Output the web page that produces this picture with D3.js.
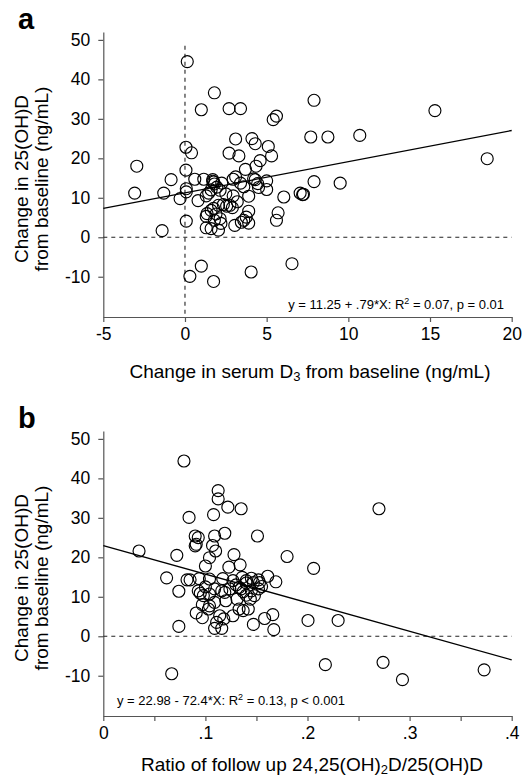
<!DOCTYPE html>
<meta charset="utf-8">
<style>
body { margin: 0; background: #fff; }
text { font-family: "Liberation Sans", Arial, sans-serif; fill: #000; }
.tick text { font-size: 17.5px; }
.axis path, .axis line { stroke: #555; stroke-width: 1.2; }
.dot { fill: none; stroke: #000; stroke-width: 1.15; }
.ref { stroke: #222; stroke-width: 1.1; stroke-dasharray: 4,4; }
.fit { stroke: #000; stroke-width: 1.3; }
.note { font-family: "Liberation Sans Narrow", "Liberation Sans", sans-serif; font-size: 13px; }
.title { font-size: 19px; }
</style>
<svg width="531" height="779"></svg>
<script src="https://d3js.org/d3.v7.min.js"></script>
<script>

// panel a: change in serum D3 vs change in 25(OH)D
var xa = [0.14, 1.8, 1.0, 2.7, 3.4, 5.4, 5.6, 7.9, 15.3, 7.7, 8.75, 10.7, 18.5,
  3.1, 4.1, 4.3, 5.1, 5.3, 0.06, 0.4, 2.7, 3.3, 4.6, 4.35, 3.7, -2.95, 0.06,
  -0.85, 0.6, 1.15, 1.7, 1.75, 2.25, 2.95, 3.1, 3.4, 4.3, 4.45, 5.0, 5.0, 4.5,
  7.9, 9.5, -3.08, -1.3, 0.08, 0.08, -0.3, 0.8, 1.3, 1.45, 1.95, 2.15, 2.95,
  3.9, 6.05, 7.05, 7.2, 7.25, 1.3, 1.35, 1.6, 1.75, 2.05, 2.35, 2.55, 2.75,
  2.15, 1.8, 1.3, 1.6, 2.05, 3.05, 3.45, 3.9, 3.9, 3.75, 3.6, 5.7, 5.6, 0.08,
  -1.4, 1.0, 0.3, 1.75, 4.05, 6.55,
  1.7, 1.8, 1.6, 2.5, 3.2, 2.9, 1.9, 2.2, 4.2, 3.6];
var ya = [44.5, 36.6, 32.3, 32.6, 32.6, 29.8, 30.7, 34.7, 32.1, 25.4, 25.4, 25.8, 19.9,
  24.9, 25.0, 23.7, 23.0, 20.6, 22.8, 21.4, 21.3, 20.6, 19.4, 18.0, 17.2, 18.0, 17.0,
  14.6, 14.7, 14.7, 14.6, 14.0, 13.7, 14.7, 15.3, 13.7, 14.6, 13.6, 14.3, 12.1, 12.6,
  14.1, 13.7, 11.2, 11.2, 12.3, 11.5, 9.8, 9.3, 10.5, 11.2, 12.7, 11.9, 10.5,
  10.4, 10.2, 11.2, 10.8, 10.9, 5.3, 6.0, 6.8, 7.3, 8.1, 8.3, 7.9, 8.1,
  4.7, 4.3, 2.4, 2.2, 1.8, 3.0, 3.8, 3.6, 6.6, 5.1, 4.3, 6.2, 4.3, 4.1,
  1.7, -7.3, -9.9, -11.2, -8.8, -6.7,
  14.2, 13.5, 12.0, 11.0, 9.0, 7.5, 5.9, 3.5, 14.8, 12.8];

// panel b: ratio 24,25(OH)2D/25(OH)D vs change in 25(OH)D
var xb = [0.079, 0.035, 0.072, 0.062, 0.074, 0.074, 0.067, 0.084, 0.082, 0.085,
  0.090, 0.093, 0.091, 0.090, 0.094, 0.093, 0.095, 0.098, 0.091, 0.097,
  0.1125, 0.1125, 0.108, 0.122, 0.135, 0.109, 0.119, 0.107, 0.110, 0.104,
  0.100, 0.128, 0.134, 0.123, 0.151, 0.18, 0.206, 0.270, 0.104, 0.117,
  0.127, 0.136, 0.140, 0.147, 0.152, 0.153, 0.161, 0.169, 0.155, 0.152,
  0.145, 0.140, 0.137, 0.133, 0.124, 0.119, 0.116, 0.109, 0.104, 0.104,
  0.109, 0.103, 0.114, 0.111, 0.109, 0.116, 0.118, 0.127, 0.133, 0.137,
  0.142, 0.144, 0.148, 0.131, 0.147, 0.158, 0.166, 0.167, 0.2005, 0.230,
  0.2175, 0.274, 0.293, 0.373,
  0.130, 0.135, 0.140, 0.120, 0.100, 0.097, 0.145];
var yb = [44.4, 21.6, 20.5, 14.8, 11.4, 2.5, -9.5, 30.1, 14.3, 14.3,
  25.4, 25.0, 23.3, 22.9, 14.6, 11.5, 10.9, 10.3, 5.9, 4.7,
  36.9, 34.8, 30.8, 32.7, 32.3, 25.4, 26.1, 23.0, 21.6, 19.9,
  17.8, 20.7, 18.1, 17.5, 25.4, 20.2, 17.2, 32.3, 14.5, 14.6,
  14.1, 14.9, 14.1, 13.6, 14.3, 13.6, 15.2, 13.8, 12.6, 12.0,
  11.5, 10.4, 11.3, 12.4, 12.0, 11.1, 11.5, 12.0, 10.7, 7.7,
  8.6, 6.9, 5.2, 3.5, 2.0, 2.0, 4.4, 5.2, 6.9, 6.5,
  6.9, 9.4, 10.3, 9.4, 3.0, 4.5, 5.5, 1.7, 4.0, 4.0,
  -7.2, -6.6, -11.0, -8.5,
  13.0, 12.0, 13.5, 9.0, 12.5, 8.0, 14.7];

var yTicks = [-10, 0, 10, 20, 30, 40, 50];
var xTicksA = [-5, 0, 5, 10, 15, 20];
var xTicksB = [0, 0.05, 0.1, 0.15, 0.2, 0.25, 0.3, 0.35, 0.4];

var svg = d3.select("svg");

function panel(top, letter, xs, ys, xDomain, xTicks, xFmt, fit, vline) {
  var x = d3.scaleLinear().domain(xDomain).range([103.3, 511.7]),
      y = d3.scaleLinear().domain([-20.2, 52]).range([top + 285, top]);

  var g = svg.append("g");

  // axes
  g.append("g").attr("class", "axis")
      .attr("transform", "translate(103.3,0)")
      .call(d3.axisLeft(y).tickValues(yTicks).tickSize(5).tickPadding(8)
        .tickSizeOuter(0).tickFormat(function(d) { return String(d); }));
  g.append("g").attr("class", "axis")
      .attr("transform", "translate(0," + (top + 285) + ")")
      .call(d3.axisBottom(x).tickValues(xTicks).tickSize(5).tickPadding(6)
        .tickSizeOuter(0).tickFormat(xFmt));

  // reference lines
  g.append("line").attr("class", "ref")
      .attr("x1", x.range()[0]).attr("x2", x.range()[1])
      .attr("y1", y(0)).attr("y2", y(0));
  if (vline) {
    g.append("line").attr("class", "ref")
        .attr("x1", x(0)).attr("x2", x(0))
        .attr("y1", y(48.5)).attr("y2", y.range()[0]);
  }

  // regression line
  g.append("line").attr("class", "fit")
      .attr("x1", x(xDomain[0])).attr("y1", y(fit[0] + fit[1] * xDomain[0]))
      .attr("x2", x(xDomain[1])).attr("y2", y(fit[0] + fit[1] * xDomain[1]));

  // points
  g.selectAll(".dot")
    .data(xs.map(function(d, i) { return [d, ys[i]]; }))
    .enter().append("circle")
      .attr("class", "dot")
      .attr("r", 6)
      .attr("cx", function(d) { return x(d[0]); })
      .attr("cy", function(d) { return y(d[1]); });

  // panel letter
  g.append("text")
      .attr("x", 18).attr("y", top - 3)
      .style("font-size", "29px").style("font-weight", "bold")
      .text(letter);

  // y title
  var yt = g.append("text").attr("class", "title")
      .attr("transform", "translate(0," + (top + 147) + ") rotate(-90)")
      .attr("text-anchor", "middle");
  yt.append("tspan").attr("x", 0).attr("y", 28).text("Change in 25(OH)D");
  yt.append("tspan").attr("x", 0).attr("y", 48).text("from baseline (ng/mL)");

  return g;
}

var ga = panel(32, "a", xa, ya, [-5, 20], xTicksA,
  function(d) { return String(d); }, [11.25, 0.79], true);

var xt = ga.append("text").attr("class", "title").attr("x", 310).attr("y", 378)
    .attr("text-anchor", "middle");
xt.append("tspan").text("Change in serum D");
xt.append("tspan").attr("baseline-shift", "-25%").style("font-size", "13px").text("3");
xt.append("tspan").text(" from baseline (ng/mL)");

var na = ga.append("text").attr("class", "note").attr("x", 504).attr("y", 309)
    .attr("text-anchor", "end");
na.append("tspan").text("y = 11.25 + .79*X: R");
na.append("tspan").attr("baseline-shift", "super").style("font-size", "9px").text("2");
na.append("tspan").text(" = 0.07, p = 0.01");

var gb = panel(431, "b", xb, yb, [0, 0.4], xTicksB,
  function(d) {
    var k = Math.round(d * 100);
    if (k % 10 !== 0) return "";
    return k === 0 ? "0" : "." + (k / 10);
  }, [22.98, -72.4], false);

var xtb = gb.append("text").attr("class", "title").attr("x", 312).attr("y", 771)
    .attr("text-anchor", "middle");
xtb.append("tspan").text("Ratio of follow up 24,25(OH)");
xtb.append("tspan").attr("baseline-shift", "-25%").style("font-size", "13px").text("2");
xtb.append("tspan").text("D/25(OH)D");

var nb = gb.append("text").attr("class", "note").attr("x", 117).attr("y", 705);
nb.append("tspan").text("y = 22.98 - 72.4*X: R");
nb.append("tspan").attr("baseline-shift", "super").style("font-size", "9px").text("2");
nb.append("tspan").text(" = 0.13, p < 0.001");

</script>
